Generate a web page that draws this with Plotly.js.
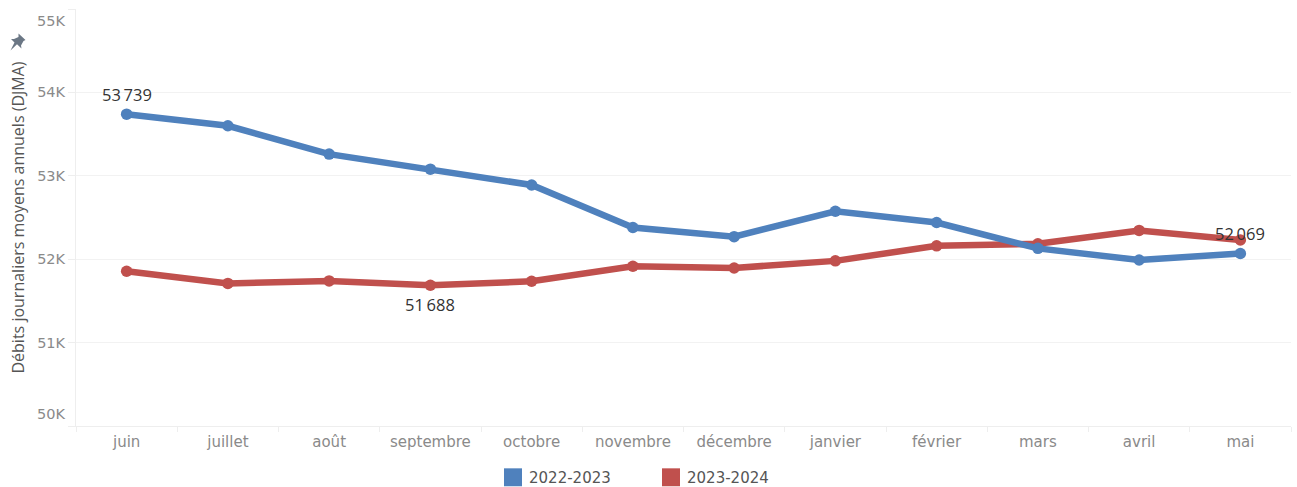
<!DOCTYPE html>
<html lang="fr">
<head>
<meta charset="utf-8">
<script src="https://cdn.plot.ly/plotly-3.0.1.min.js"></script>
<style>html,body{margin:0;padding:0;background:#fff}#chart{width:1297px;height:487px}</style>
</head>
<body>
<div id="chart"></div>
<script>
const months = ['juin','juillet','août','septembre','octobre','novembre','décembre','janvier','février','mars','avril','mai'];
const serie2223 = [53739,53600,53260,53080,52890,52380,52270,52575,52440,52130,51990,52069];
const serie2324 = [51855,51710,51740,51688,51735,51915,51895,51980,52160,52185,52345,52230];
const name2223 = '2022-2023';
const name2324 = '2023-2024';
const color2223 = '#4F81BD';
const color2324 = '#C0504D';
const yTickVals = [50000,51000,52000,53000,54000,55000];
const yTickText = ['50K','51K','52K','53K','54K','55K'];
const yTitle = 'Débits journaliers moyens annuels (DJMA)';
const FONT = '"Open Sans", "Noto Sans", sans-serif';
const AXFONT = '"DejaVu Sans", sans-serif';
const fmt = v => String(v).replace(/\B(?=(\d{3})+$)/g, '\u2009');

function line(name, y, color){
  return {type:'scatter', mode:'lines+markers', name, x:months, y,
    line:{color, width:6.5}, marker:{color, size:11.5}, cliponaxis:false, hoverinfo:'x+y'};
}
function valueLabel(idx, series, yshift){
  return {x:months[idx], y:series[idx], xref:'x', yref:'y', text:fmt(series[idx]), showarrow:false,
    yshift, font:{family:FONT, size:16.5, color:'#333'}, xanchor:'center', yanchor:'middle'};
}
function edgeTick(i, yshift){
  return {xref:'paper', x:0, xanchor:'right', xshift:-9, yref:'y', y:yTickVals[i], yshift,
    yanchor:'middle', text:yTickText[i], showarrow:false, font:{family:AXFONT, size:14.5, color:'#8a8a8a'}};
}
function legendItem(xPx, color, label){
  return {
    shape:{type:'rect', xref:'x domain', yref:'paper', layer:'above', line:{width:0}, fillcolor:color,
      x0:(xPx-76)/1215, x1:(xPx+18-76)/1215, y0:-0.1445, y1:-0.1015},
    note:{xref:'x domain', yref:'paper', x:(xPx+23-76)/1215, y:-0.1255, xanchor:'left', yanchor:'middle',
      text:label, showarrow:false, font:{family:AXFONT, size:15, color:'#555'}}
  };
}
const leg1 = legendItem(504, color2223, name2223);
const leg2 = legendItem(662, color2324, name2324);

// pin glyph beside the axis title, in pixels relative to the plot's top-left corner
const pinOutline = [[18.5,33],[25.5,39.5],[23.5,40.5],[21,45],[21.5,48],[17,43.8],[10.5,50],[14.5,42],[11,38.5],[14,38.5],[18.5,36.5]];
const pin = pinOutline.map((p,i)=>(i?'L':'M')+' '+(p[0]-76)+' '+(8.6-p[1])).join(' ')+' Z';

const layout = {
  width:1297, height:487,
  margin:{l:76, r:6, t:8.6, b:60.5, pad:0},
  paper_bgcolor:'#fff', plot_bgcolor:'#fff',
  showlegend:false,
  font:{family:FONT},
  xaxis:{type:'category', categoryorder:'array', categoryarray:months, range:[-0.5,11.5],
    tickson:'boundaries', ticks:'outside', ticklen:5, tickcolor:'#eeeeee', tickwidth:1,
    showgrid:false, showline:true, linecolor:'#eeeeee', linewidth:1, zeroline:false,
    ticklabelstandoff:2,
    tickfont:{family:AXFONT, size:15, color:'#8a8a8a'}, automargin:false},
  yaxis:{range:[50000,55000], tickvals:yTickVals, ticktext:['','51K','52K','53K','54K',''],
    ticks:'outside', ticklen:7, tickcolor:'#eeeeee', tickwidth:1,
    showgrid:true, gridcolor:'#f2f2f2', gridwidth:1, showline:true, linecolor:'#eeeeee', linewidth:1, zeroline:false,
    tickfont:{family:AXFONT, size:14.5, color:'#8a8a8a'}, automargin:false,
    title:{text:yTitle, standoff:8, font:{family:FONT, size:16, color:'#555'}}},
  annotations:[
    edgeTick(0, 12), edgeTick(5, -12),
    valueLabel(0, serie2223, 20),
    valueLabel(11, serie2223, 20),
    valueLabel(3, serie2324, -19),
    leg1.note, leg2.note
  ],
  shapes:[leg1.shape, leg2.shape,
    {type:'path', xref:'paper', yref:'paper', xsizemode:'pixel', ysizemode:'pixel', xanchor:0, yanchor:1,
     path:pin, fillcolor:'#6b7785', line:{width:0}, layer:'above'}]
};
Plotly.newPlot('chart', [line(name2324, serie2324, color2324), line(name2223, serie2223, color2223)], layout, {displayModeBar:false, responsive:false});
</script>
</body>
</html>
